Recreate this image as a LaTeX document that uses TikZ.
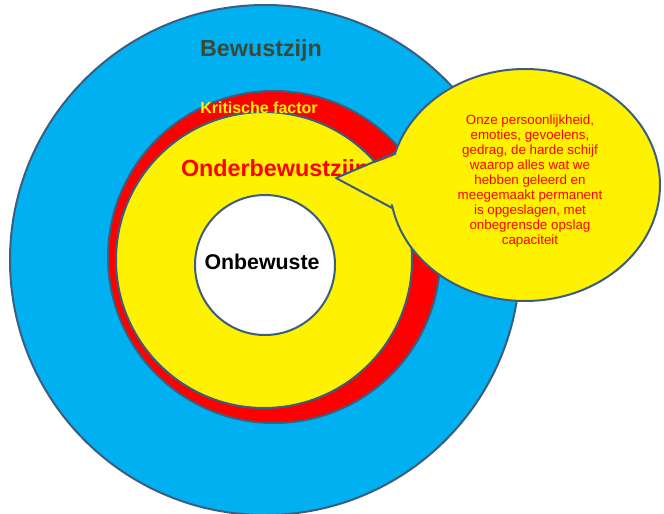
\documentclass[tikz,border=0pt]{standalone}
\usepackage{fontspec}
\setmainfont{Liberation Sans}
\usetikzlibrary{shapes.geometric}
\definecolor{rim}{HTML}{3B5E7E}
\definecolor{skyblue}{HTML}{00B0F0}
\definecolor{darkmoss}{HTML}{3A4A38}
\begin{document}
\begin{tikzpicture}[x=0.75pt,y=-0.75pt,inner sep=0pt,outer sep=0pt,
ring/.style={draw=rim,line width=1.5pt,circle},
big/.style={font=\bfseries\fontsize{17.5}{20}\selectfont}]
\useasboundingbox (0,0) rectangle (664,514);

\node[ring,fill=skyblue,minimum size=510*0.75pt] (outer) at (265,260) {};
\node[ring,fill=red,minimum size=332*0.75pt] (crit) at (274,257) {};
\node[ring,fill=yellow,minimum size=296*0.75pt] (sub) at (264,260) {};
\node[ring,fill=white,minimum size=140*0.75pt] (core) at (265,265) {};

\node[big,text=darkmoss] (bew) at (261,50) {Bewustzijn};
\node[font=\bfseries\fontsize{12}{14}\selectfont,text=yellow] (kf) at (259,108) {Kritische factor};
\node[big,text=red] (ob) at (275,170) {Onderbewustzijn};
\node[font=\bfseries\fontsize{16}{18}\selectfont] (onb) at (262,262) {Onbewuste};

% callout
\node[ellipse,draw=rim,line width=1.5pt,fill=yellow,minimum width=270*0.75pt,minimum height=232*0.75pt] (callout) at (525,185) {};
\coordinate (tip) at (336,178);
\fill[yellow] (callout.166) ++(6,0) -- (tip) -- ([xshift=6pt]callout.190) -- cycle;
\draw[rim,line width=1.5pt,line join=round] (callout.166) -- (tip) -- (callout.190);
\node[align=center,text=red,font=\fontsize{10}{11.3}\selectfont] (info) at (530,181)
{Onze persoonlijkheid,\\emoties, gevoelens,\\gedrag, de harde schijf\\waarop alles wat we\\hebben geleerd en\\meegemaakt permanent\\is opgeslagen, met\\onbegrensde opslag\\capaciteit};
\end{tikzpicture}
\end{document}
